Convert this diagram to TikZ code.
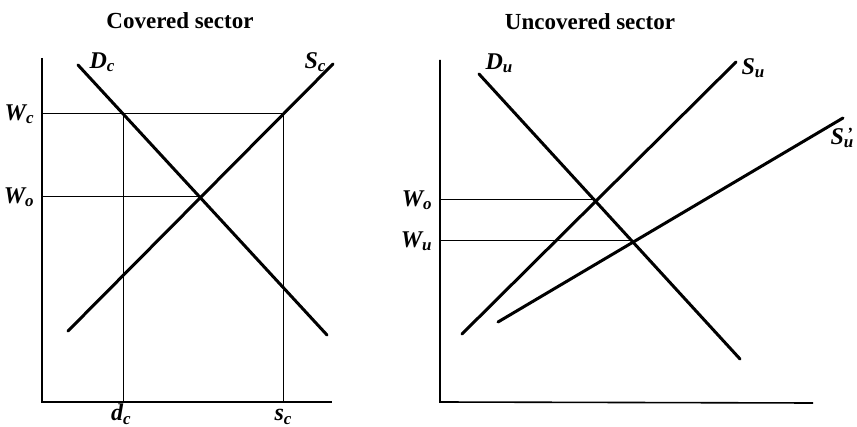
\documentclass[tikz,border=0pt]{standalone}
\usepackage{fontspec}
\setmainfont{Liberation Serif}
\usetikzlibrary{positioning}

\newcommand\sublab[2]{#1\raisebox{-0.3ex}{\fontsize{8.5}{9}\selectfont #2}}
\newcommand\primelab[2]{#1\raisebox{-0.3ex}{\fontsize{8.5}{9}\selectfont\rlap{\raisebox{1.0ex}{\,\textquoteright}}#2}}

\begin{document}
\begin{tikzpicture}[
    x=0.5pt, y=-0.5pt,
    curve/.style = {line width=1.5pt, line cap=round},
    axis/.style  = {line width=0.8pt},
    guide/.style = {line width=0.5pt},
    ttl/.style   = {font=\fontsize{11.5}{13}\selectfont\bfseries},
    lbl/.style   = {font=\fontsize{12}{13}\selectfont\bfseries\itshape, inner sep=1pt},
]
\useasboundingbox (0,0) rectangle (857,427);

% Covered sector (left panel)
\node[ttl] (ctitle) at (180,21) {Covered sector};
\coordinate (corig) at (42,402);
\coordinate (ctop)  at (42,58);
\coordinate (cend)  at (332,402);
\draw[axis] (ctop) -- (corig) -- (cend);

\coordinate (dc1) at (78,65);   \coordinate (dc2) at (327,335);
\coordinate (sc1) at (68,331);  \coordinate (sc2) at (333,64);
\draw[curve] (dc1) -- (dc2);
\draw[curve] (sc1) -- (sc2);

\coordinate (cwc)  at (42,114);  \coordinate (cwo)  at (42,197);
\coordinate (cdem) at (123,114); \coordinate (csup) at (283,114);
\coordinate (ceq)  at (200,197);
\coordinate (cdx)  at (123,402); \coordinate (csx)  at (283,402);
\draw[guide] (cwc) -- (csup) -- (csx);
\draw[guide] (cdem) -- (cdx);
\draw[guide] (cwo) -- (ceq);

\node[lbl, left=3pt of cwc]  (lwc) {\sublab{W}{c}};
\node[lbl, left=3pt of cwo]  (lwo) {\sublab{W}{o}};
\node[lbl] (ldc) at (102,62) {\sublab{D}{c}};
\node[lbl] (lsc) at (315,62) {\sublab{S}{c}};
\node[lbl, anchor=base] (ldx) at (121,421) {\sublab{d}{c}};
\node[lbl, anchor=base] (lsx) at (283,421) {\sublab{s}{c}};

% Uncovered sector (right panel)
\node[ttl] (utitle) at (590,22) {Uncovered sector};
\coordinate (uorig) at (440,402);
\coordinate (utop)  at (440,60);
\coordinate (uend)  at (813,403);
\draw[axis] (utop) -- (uorig) -- (uend);

\coordinate (du1) at (479,74);  \coordinate (du2) at (740,359);
\coordinate (su1) at (462,334); \coordinate (su2) at (736,62);
\coordinate (sp1) at (498,322); \coordinate (sp2) at (843,118);
\draw[curve] (du1) -- (du2);
\draw[curve] (su1) -- (su2);
\draw[curve] (sp1) -- (sp2);

\coordinate (uwo) at (440,200); \coordinate (ueq)  at (595,200);
\coordinate (uwu) at (440,241); \coordinate (ueq2) at (633,241);
\draw[guide] (uwo) -- (ueq);
\draw[guide] (uwu) -- (ueq2);

\node[lbl, left=3pt of uwo] (lwo2) {\sublab{W}{o}};
\node[lbl, left=3pt of uwu] (lwu)  {\sublab{W}{u}};
\node[lbl] (ldu) at (499,63)  {\sublab{D}{u}};
\node[lbl] (lsu) at (753,68)  {\sublab{S}{u}};
\node[lbl] (lsp) at (842,138) {\primelab{S}{u}};

\end{tikzpicture}
\end{document}
